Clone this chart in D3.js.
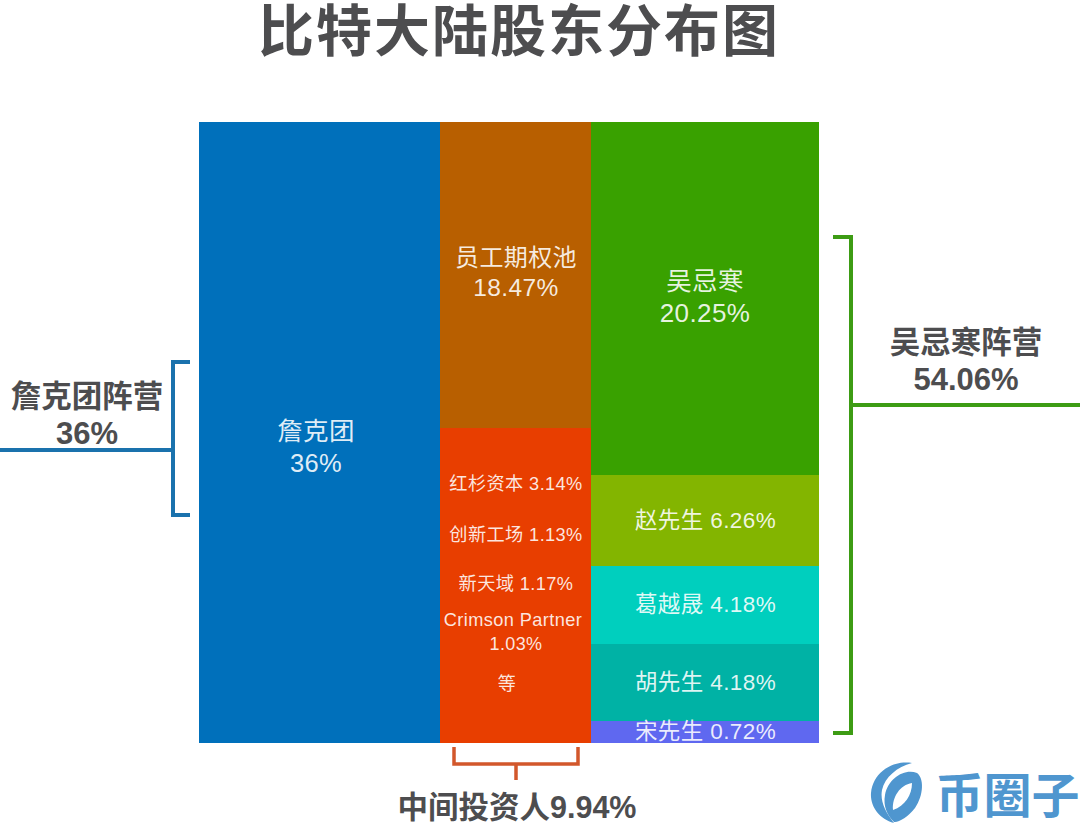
<!DOCTYPE html>
<html>
<head>
<meta charset="utf-8">
<title>比特大陆股东分布图</title>
<script src="https://cdn.jsdelivr.net/npm/d3@7"></script>
<style>
	html, body { margin: 0; padding: 0; background: #fff; }
	svg { display: block; }
	text { font-family: "Liberation Sans", "Noto Sans CJK SC", sans-serif; text-anchor: middle; dominant-baseline: central; }
	.inside { fill: #fff; fill-opacity: 0.88; letter-spacing: 0.4px; }
	.camp { fill: #4d4d4f; font-weight: 700; }
</style>
</head>
<body>
<svg id="chart" width="1080" height="826"></svg>
<script>
var founderNames = ["詹克团"];
var founderValues = [36];
var middleNames = ["员工期权池", "中间投资人"];
var middleValues = [18.47, 9.94];
var wuNames = ["吴忌寒", "赵先生", "葛越晟", "胡先生", "宋先生"];
var wuValues = [20.25, 6.26, 4.18, 4.18, 0.72];
var investorNames = ["红杉资本", "创新工场", "新天域", "Crimson Partner"];
var investorValues = [3.14, 1.13, 1.17, 1.03];
var campNames = ["詹克团阵营", "吴忌寒阵营", "中间投资人"];
var campValues = [36, 54.06, 9.94];

$chart();

function $chart() {
	var svg = d3.select("#chart");

	// the blocks in the picture are not to scale, so each column gets its own piecewise scale
	var x = d3.scaleLinear().domain([0, 1, 2, 3]).range([199, 440, 591, 819]);
	var yFounder = columnScale(founderValues, [122, 743]);
	var yMiddle = columnScale(middleValues, [122, 428, 743]);
	var yWu = columnScale(wuValues, [122, 475, 566, 644, 721, 743]);

	drawColumn(founderValues, 0, yFounder, ["#0070bb"]);
	drawColumn(middleValues, 1, yMiddle, ["#b85f00", "#e83e00"]);
	drawColumn(wuValues, 2, yWu, ["#39a100", "#83b500", "#00cfbe", "#00b2a5", "#5f68f0"]);

	function columnScale(values, range) {
		return d3.scaleLinear().domain([0].concat(Array.from(d3.cumsum(values)))).range(range);
	}

	function drawColumn(values, col, y, colors) {
		var cum = [0].concat(Array.from(d3.cumsum(values)));
		svg.append("g").selectAll("rect").data(values).join("rect")
			.attr("x", x(col))
			.attr("width", x(col + 1) - x(col))
			.attr("y", function(d, i) { return y(cum[i]); })
			.attr("height", function(d, i) { return y(cum[i + 1]) - y(cum[i]); })
			.attr("fill", function(d, i) { return colors[i]; });
	}

	function label(cls, cx, cy, size, str) {
		return svg.append("text").attr("class", cls).attr("x", cx).attr("y", cy)
			.attr("font-size", size).text(str);
	}

	// title
	svg.append("text").attr("x", 519).attr("y", 31).attr("font-size", 56)
		.attr("font-weight", 700).attr("fill", "#4d4d4f").attr("letter-spacing", 2)
		.text("比特大陆股东分布图");

	// big blocks, name over value
	label("inside", 316, 431, 25.5, founderNames[0]);
	label("inside", 316, 463, 25.5, founderValues[0] + "%");
	label("inside", 516, 257, 24, middleNames[0]);
	label("inside", 516, 287, 24.5, middleValues[0] + "%");
	label("inside", 705, 281, 25.5, wuNames[0]);
	label("inside", 705, 313, 26, wuValues[0].toFixed(2) + "%");

	// small holders of the green column sit centred in their block
	var wuCum = [0].concat(Array.from(d3.cumsum(wuValues)));
	wuNames.slice(1).forEach(function(name, i) {
		var mid = (yWu(wuCum[i + 1]) + yWu(wuCum[i + 2])) / 2;
		label("inside", 705.5, mid - 0.5, 22.5, name + " " + wuValues[i + 1].toFixed(2) + "%");
	});

	// investors inside the orange block
	var investorY = [484, 535, 584];
	investorNames.slice(0, 3).forEach(function(name, i) {
		label("inside", 516, investorY[i], 18.2, name + " " + investorValues[i].toFixed(2) + "%");
	});
	label("inside", 513, 620, 18.2, investorNames[3]);
	label("inside", 516, 644, 18, investorValues[3].toFixed(2) + "%");
	label("inside", 507, 684, 18, "等");

	// brackets
	bracket("M0,450H173M190,362H173V515H190", "#1a72ad", 4);
	bracket("M833,237H851V733H833M851,405H1080", "#3d9c14", 4);
	bracket("M454,747V764H578V747M516,764V780", "#d2572b", 3.5);

	function bracket(d, color, w) {
		svg.append("path").attr("d", d).attr("fill", "none").attr("stroke", color).attr("stroke-width", w);
	}

	label("camp", 87, 396, 30.5, campNames[0]);
	label("camp", 87, 433, 31, campValues[0] + "%");
	label("camp", 966, 342, 30.5, campNames[1]);
	label("camp", 966, 379, 31, campValues[1].toFixed(2) + "%");
	label("camp", 517, 807, 30.5, campNames[2] + campValues[2].toFixed(2) + "%");

	// watermark logo
	var logo = svg.append("g").attr("fill", "#4f96cf");
	logo.append("path").attr("d", "M912,763C893,760 873,772 871,793C870,806 879,819 894,823C885,812 880,801 882,790C885,777 897,767 912,763Z");
	logo.append("path").attr("fill-rule", "evenodd").attr("d", "M885,795C888,778 905,768 917,773C924,778 924,795 915,808C908,817 898,823 894,822C887,815 883,806 885,795ZM912,783C900,785 892,797 893,810C905,806 912,795 912,783Z");
	svg.append("text").attr("x", 1007.5).attr("y", 796).attr("font-size", 48)
		.attr("font-weight", 700).attr("fill", "#4f96cf").text("币圈子");
}
</script>
</body>
</html>
